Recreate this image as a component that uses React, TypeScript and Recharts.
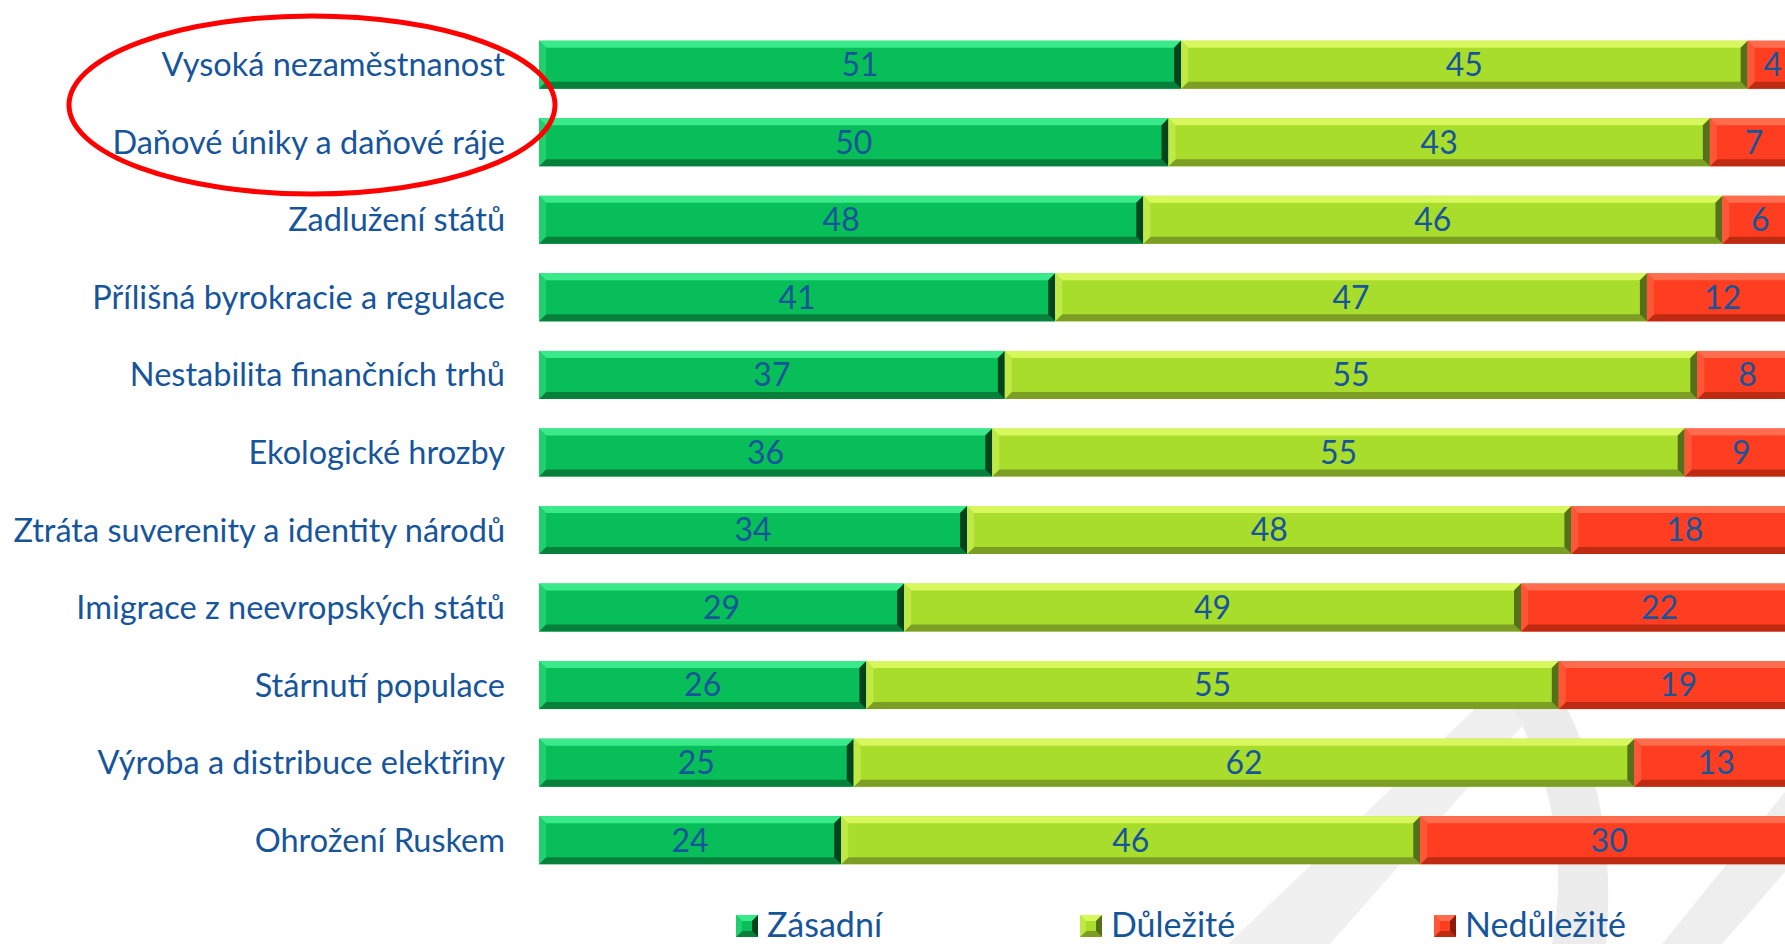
import React from "react";
import { BarChart, Bar, XAxis, YAxis, Legend, LabelList } from "recharts";

const categories = [
  "Vysoká nezaměstnanost",
  "Daňové úniky a daňové ráje",
  "Zadlužení států",
  "Přílišná byrokracie a regulace",
  "Nestabilita finančních trhů",
  "Ekologické hrozby",
  "Ztráta suverenity a identity národů",
  "Imigrace z neevropských států",
  "Stárnutí populace",
  "Výroba a distribuce elektřiny",
  "Ohrožení Ruskem",
];
const zasadni = [51, 50, 48, 41, 37, 36, 34, 29, 26, 25, 24];
const dulezite = [45, 43, 46, 47, 55, 55, 48, 49, 55, 62, 46];
const nedulezite = [4, 7, 6, 12, 8, 9, 18, 22, 19, 13, 30];

const seriesNames = ["Zásadní", "Důležité", "Nedůležité"];
const seriesKeys = ["zasadni", "dulezite", "nedulezite"];

const data = categories.map((name, i) => ({
  name,
  zasadni: zasadni[i],
  dulezite: dulezite[i],
  nedulezite: nedulezite[i],
}));

const FONT = "Lato, 'Open Sans', sans-serif";
const TEXT = "#17559b";

type Pal = { base: string; top: string; bottom: string; left: string; right: string };

const PAL: Record<string, Pal> = {
  zasadni: { base: "#08be58", top: "#3ae98a", bottom: "#07803c", left: "#1fd06c", right: "#03441f" },
  dulezite: { base: "#a9dd2c", top: "#d8f75c", bottom: "#7d9e24", left: "#bfe944", right: "#54701a" },
  nedulezite: { base: "#ff3d20", top: "#ff6c4e", bottom: "#bf2a12", left: "#ff5637", right: "#8a1a0a" },
};

// legend item x positions (page px)
const legendX = [736, 1080, 1434];

function BevelRect({ x, y, width, height, pal, b = 7 }: any) {
  if (!width || !height) return null;
  const w = width;
  const h = height;
  const bb = Math.min(b, w / 2, h / 2);
  return (
    <g>
      <rect x={x} y={y} width={w} height={h} fill={pal.base} />
      <polygon
        points={`${x},${y} ${x + w},${y} ${x + w - bb},${y + bb} ${x + bb},${y + bb}`}
        fill={pal.top}
      />
      <polygon
        points={`${x},${y + h} ${x + w},${y + h} ${x + w - bb},${y + h - bb} ${x + bb},${y + h - bb}`}
        fill={pal.bottom}
      />
      <polygon
        points={`${x},${y} ${x + bb},${y + bb} ${x + bb},${y + h - bb} ${x},${y + h}`}
        fill={pal.left}
      />
      <polygon
        points={`${x + w},${y} ${x + w - bb},${y + bb} ${x + w - bb},${y + h - bb} ${x + w},${y + h}`}
        fill={pal.right}
      />
    </g>
  );
}

function LegendContent() {
  return (
    <div
      style={{
        position: "relative",
        height: 40,
        fontFamily: FONT,
        fontSize: 34,
        color: TEXT,
      }}
    >
      {seriesKeys.map((k, i) => (
        <div
          key={k}
          style={{ position: "absolute", left: legendX[i], top: 0, height: 40, display: "flex", alignItems: "center" }}
        >
          <svg width={22} height={22} style={{ marginTop: 4, marginRight: 9 }}>
            <BevelRect x={0} y={0} width={22} height={22} pal={PAL[k]} b={6} />
          </svg>
          <span style={{ whiteSpace: "nowrap", lineHeight: "40px" }}>{seriesNames[i]}</span>
        </div>
      ))}
    </div>
  );
}

export default function App() {
  return (
    <div
      style={{
        position: "absolute",
        top: 0,
        left: 0,
        width: 1785,
        height: 944,
        overflow: "hidden",
        background: "#ffffff",
      }}
    >
      {/* faint watermark in the background */}
      <svg width={1785} height={944} style={{ position: "absolute", top: 0, left: 0 }}>
        <polygon points="1228,944 1478,706 1540,706 1330,944" fill="#f0f0f0" />
        <path d="M1512,706 Q1575,820 1552,944 L1606,944 Q1618,810 1566,706 Z" fill="#ececec" />
        <polygon points="1662,944 1785,792 1785,872 1722,944" fill="#eeeeee" />
      </svg>
      <div style={{ position: "absolute", top: 0, left: 0 }}>
        <BarChart
          width={1800}
          height={944}
          data={data}
          layout="vertical"
          barCategoryGap="19%"
          margin={{ top: 26, right: 2, left: 0, bottom: 25 }}
        >
          <XAxis type="number" domain={[0, 100]} hide />
          <YAxis
            type="category"
            dataKey="name"
            width={539}
            axisLine={false}
            tickLine={false}
            tickSize={0}
            tickMargin={34}
            interval={0}
            tick={{ fill: TEXT, fontSize: 32.5, fontFamily: FONT }}
          />
          <Legend verticalAlign="bottom" content={<LegendContent />} wrapperStyle={{ bottom: 0, left: 0 }} />
          {seriesKeys.map((k, i) => (
            <Bar
              key={k}
              dataKey={k}
              name={seriesNames[i]}
              stackId="a"
              fill={PAL[k].base}
              isAnimationActive={false}
              shape={(p: any) => <BevelRect {...p} pal={PAL[k]} />}
            >
              <LabelList dataKey={k} position="center" fill={TEXT} fontSize={32} fontFamily={FONT} />
            </Bar>
          ))}
        </BarChart>
      </div>
      <svg
        width={1785}
        height={944}
        style={{ position: "absolute", top: 0, left: 0, pointerEvents: "none" }}
      >
        <ellipse cx={312} cy={105} rx={243} ry={89} fill="none" stroke="#ff0000" strokeWidth={5} />
      </svg>
    </div>
  );
}
